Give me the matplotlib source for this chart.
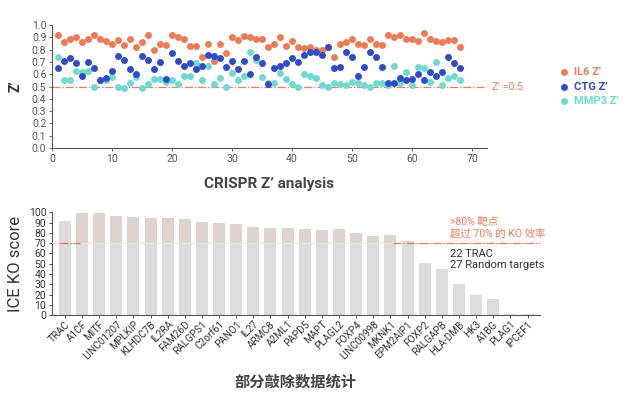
import matplotlib
matplotlib.use("Agg")
import matplotlib.pyplot as plt
import numpy as np

plt.rcParams['font.family'] = ['Roboto', 'Noto Sans CJK SC', 'DejaVu Sans']

# top panel: Z' per plate
il6_z = [0.92, 0.86, 0.89, 0.90, 0.86, 0.89, 0.92, 0.89, 0.87, 0.85,
         0.88, 0.84, 0.89, 0.82, 0.86, 0.92, 0.80, 0.85, 0.84, 0.92,
         0.90, 0.89, 0.83, 0.83, 0.74, 0.85, 0.71, 0.85, 0.77, 0.90,
         0.88, 0.91, 0.90, 0.89, 0.89, 0.82, 0.85, 0.90, 0.83, 0.87,
         0.82, 0.81, 0.82, 0.80, 0.80, 0.82, 0.74, 0.85, 0.86, 0.89,
         0.85, 0.84, 0.89, 0.85, 0.84, 0.92, 0.90, 0.92, 0.89, 0.89,
         0.87, 0.94, 0.89, 0.87, 0.86, 0.88, 0.88, 0.82]
ctg_z = [0.65, 0.71, 0.73, 0.69, 0.59, 0.70, 0.65, 0.55, 0.57, 0.63,
         0.75, 0.72, 0.64, 0.60, 0.75, 0.72, 0.64, 0.70, 0.56, 0.77,
         0.71, 0.67, 0.69, 0.64, 0.67, 0.76, 0.75, 0.73, 0.66, 0.71,
         0.64, 0.71, 0.60, 0.74, 0.69, 0.52, 0.65, 0.67, 0.69, 0.73,
         0.70, 0.76, 0.78, 0.78, 0.76, 0.82, 0.65, 0.66, 0.78, 0.74,
         0.59, 0.66, 0.78, 0.74, 0.66, 0.53, 0.53, 0.57, 0.55, 0.56,
         0.60, 0.55, 0.62, 0.59, 0.62, 0.74, 0.69, 0.65]
mmp3_z = [0.74, 0.55, 0.55, 0.63, 0.62, 0.63, 0.50, 0.55, 0.55, 0.58,
          0.50, 0.49, 0.53, 0.58, 0.49, 0.52, 0.56, 0.56, 0.54, 0.55,
          0.52, 0.59, 0.59, 0.69, 0.55, 0.67, 0.52, 0.57, 0.50, 0.61,
          0.55, 0.59, 0.78, 0.72, 0.58, 0.53, 0.53, 0.61, 0.56, 0.52,
          0.50, 0.60, 0.59, 0.57, 0.51, 0.50, 0.53, 0.52, 0.51, 0.54,
          0.53, 0.51, 0.50, 0.53, 0.53, 0.51, 0.67, 0.53, 0.62, 0.51,
          0.66, 0.65, 0.54, 0.70, 0.51, 0.57, 0.59, 0.55]
plate_no = np.arange(1, len(il6_z) + 1)
z_cutoff = 0.5

# bottom panel: ICE KO score per target (TRAC is the control)
genes = ["TRAC", "A1CF", "MITF", "LINC01207", "MPLKIP", "KLHDC7B", "IL2RA",
         "FAM26D", "RALGPS1", "C2orf61", "PANO1", "IL27", "ARMC8", "A2ML1",
         "PAPD5", "MAPT", "PLAGL2", "FOXP4", "LINC00998", "MKNK1", "EPM2AIP1",
         "FOXP2", "RALGAPB", "HLA-DMB", "HK3", "A1BG", "PLAG1", "IPCEF1"]
ko_score = [92, 99, 99, 97, 96, 95, 95, 93.5, 91, 90, 88.5, 86, 85, 85,
            84, 83, 83.5, 79.5, 77.5, 78, 72, 51, 45, 30, 19.5, 15.5, 1, 0.5]
ko_cutoff = 70

orange = "#ec7b57"
blue = "#2f4cc6"
teal = "#72d9d1"
axis_grey = "#555555"
bar_grey = "#dcdcdc"
bar_beige = "#ddd4d1"

fig = plt.figure(figsize=(6.4, 3.99), dpi=100)

# ---- top: Z' scatter
ax1 = fig.add_axes([0.081, 0.629, 0.68, 0.308])
ax1.scatter(plate_no, il6_z, s=25, color=orange, label="IL6 Z'", zorder=3, linewidths=0)
ax1.scatter(plate_no, mmp3_z, s=25, color=teal, label="MMP3 Z'", zorder=4, linewidths=0)
ax1.scatter(plate_no, ctg_z, s=25, color=blue, label="CTG Z'", zorder=5, linewidths=0)
ax1.axhline(z_cutoff, color=orange, lw=0.9, ls="-.", zorder=2)
ax1.text(1.012, z_cutoff, "Z' =0.5", transform=ax1.get_yaxis_transform(),
         color=orange, fontsize=7.5, va="center", ha="left")

ax1.set_xlim(0, 72.5)
ax1.set_ylim(0, 1.0)
ax1.set_xticks(np.arange(0, 71, 10))
ax1.set_yticks(np.arange(0, 1.01, 0.1))
ax1.set_yticklabels(["{:.1f}".format(v) for v in np.arange(0, 1.01, 0.1)])
for side in ["top", "right"]:
    ax1.spines[side].set_visible(False)
for side in ["left", "bottom"]:
    ax1.spines[side].set_color(axis_grey)
    ax1.spines[side].set_linewidth(0.8)
ax1.tick_params(colors=axis_grey, labelsize=7.5, length=2.5, width=0.6, pad=1.5)
ax1.set_ylabel("Z\u2019", fontsize=10, fontweight="bold", color="#333333", labelpad=7)
ax1.set_xlabel("CRISPR Z\u2019 analysis", fontsize=11, fontweight="bold",
               color="#444444", labelpad=10)

handles, labels = ax1.get_legend_handles_labels()
order = [0, 2, 1]
fig.legend([handles[i] for i in order], [labels[i] for i in order],
           loc="center left", bbox_to_anchor=(0.875, 0.783), frameon=False,
           handlelength=0.8, handletextpad=0.45, labelspacing=0.4,
           borderpad=0, borderaxespad=0, labelcolor="markerfacecolor",
           prop={"weight": "bold", "size": 8})

# ---- bottom: ICE KO bars
ax2 = fig.add_axes([0.081, 0.2105, 0.7625, 0.257])
x = np.arange(len(genes))
low_part = np.minimum(ko_score, ko_cutoff)
high_part = np.maximum(np.array(ko_score) - ko_cutoff, 0)
top_colors = [bar_grey if g == "TRAC" else bar_beige for g in genes]
ax2.bar(x, low_part, width=0.7, color=bar_grey, zorder=2)
ax2.bar(x, high_part, bottom=low_part, width=0.7, color=top_colors, zorder=2)
ax2.axhline(ko_cutoff, color="#ebe7e6", lw=0.8, zorder=3)
ax2.axhline(ko_cutoff, xmin=0.015, xmax=0.058, color=orange, lw=1.0, ls="-.", zorder=4)
ax2.axhline(ko_cutoff, xmin=0.7, xmax=1.0, color=orange, lw=0.9, ls="-.", zorder=4)

ax2.set_xlim(-0.76, len(genes) - 0.28)
ax2.set_ylim(0, 100)
ax2.set_yticks(np.arange(0, 101, 10))
ax2.set_xticks(x)
ax2.set_xticklabels(genes, rotation=45, ha="right", rotation_mode="anchor")
for side in ["top", "right"]:
    ax2.spines[side].set_visible(False)
for side in ["left", "bottom"]:
    ax2.spines[side].set_color(axis_grey)
    ax2.spines[side].set_linewidth(0.8)
ax2.tick_params(axis="y", colors="#333333", labelsize=7.5, length=2.5, width=0.6, pad=1.5)
ax2.tick_params(axis="x", colors="#333333", labelsize=7.2, length=2, width=0.6, pad=1)
ax2.set_ylabel("ICE KO score", fontsize=12, color="#333333", labelpad=4)
ax2.set_xlabel("部分敲除数据统计", fontsize=11, fontweight="bold", color="#444444", labelpad=10)

ax2.text(0.816, 0.905, ">80% 靶点", transform=ax2.transAxes, color=orange,
         fontsize=7.5, va="center", ha="left")
ax2.text(0.816, 0.79, "超过 70% 的 KO 效率", transform=ax2.transAxes, color=orange,
         fontsize=7.5, va="center", ha="left")
ax2.text(0.816, 0.595, "22 TRAC", transform=ax2.transAxes, color="#333333",
         fontsize=8, va="center", ha="left")
ax2.text(0.816, 0.49, "27 Random targets", transform=ax2.transAxes, color="#333333",
         fontsize=8, va="center", ha="left")

fig.savefig("out.png", dpi=100)
